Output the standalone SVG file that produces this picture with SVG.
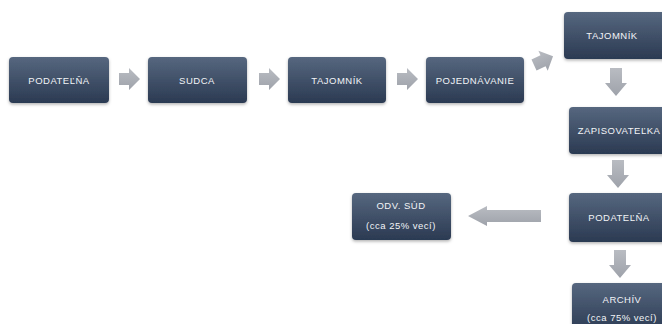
<svg xmlns="http://www.w3.org/2000/svg" width="662" height="324" viewBox="0 0 662 324">
<defs>
<linearGradient id="bx" x1="0" y1="0" x2="0" y2="1">
<stop offset="0" stop-color="#56677f"/>
<stop offset="1" stop-color="#2b3a52"/>
</linearGradient>
<linearGradient id="ar" x1="0" y1="0" x2="0" y2="1">
<stop offset="0" stop-color="#b9bcc2"/>
<stop offset="1" stop-color="#9ea2aa"/>
</linearGradient>
<filter id="sh" x="-10%" y="-10%" width="120%" height="130%">
<feDropShadow dx="0" dy="1.5" stdDeviation="1.5" flood-color="#000" flood-opacity="0.3"/>
</filter>
<polygon id="ra" points="0,-6 10,-6 10,-11 21,0 10,11 10,6 0,6"/>
<polygon id="da" points="-6,0 6,0 6,15 11,15 0,28 -11,15 -6,15"/>
</defs>
<style>
.box{fill:url(#bx);filter:url(#sh)}
.t{fill:#f2f4f7;font-family:"Liberation Sans",Arial,sans-serif;font-size:9.5px;text-anchor:middle;letter-spacing:0.5px}
.a{fill:url(#ar)}
</style>
<rect width="662" height="324" fill="#fff"/>
<g id="connectors">
<use href="#ra" class="a" x="119" y="79"/>
<use href="#ra" class="a" x="259" y="79"/>
<use href="#ra" class="a" x="397" y="79"/>
<use href="#ra" class="a" transform="translate(534,65) rotate(-25)"/>
<use href="#da" class="a" x="616" y="68"/>
<use href="#da" class="a" x="618" y="160"/>
<polygon class="a" points="541,210 487,210 487,206 468,216 487,226 487,222 541,222"/>
<use href="#da" class="a" x="620" y="250"/>
</g>
<g id="n1"><rect class="box" x="9" y="57" width="100" height="46" rx="4"/><text class="t" x="59" y="83.5">PODATEĽŇA</text></g>
<g id="n2"><rect class="box" x="148" y="57" width="99" height="46" rx="4"/><text class="t" x="197" y="83.5">SUDCA</text></g>
<g id="n3"><rect class="box" x="288" y="57" width="98" height="46" rx="4"/><text class="t" x="337" y="83.5">TAJOMNÍK</text></g>
<g id="n4"><rect class="box" x="426" y="57" width="98" height="46" rx="4"/><text class="t" x="475" y="83.5">POJEDNÁVANIE</text></g>
<g id="n5"><rect class="box" x="564" y="12" width="104" height="47" rx="4"/><text class="t" x="612" y="38.5">TAJOMNÍK</text></g>
<g id="n6"><rect class="box" x="569" y="107" width="100" height="47" rx="4"/><text class="t" x="619" y="133.5">ZAPISOVATEĽKA</text></g>
<g id="n7"><rect class="box" x="569" y="193" width="100" height="49" rx="4"/><text class="t" x="619" y="220.5">PODATEĽŇA</text></g>
<g id="n8"><rect class="box" x="352" y="193" width="99" height="47" rx="4"/><text class="t" x="401" y="208.5">ODV. SÚD</text><text class="t" x="401" y="228.5">(cca 25% vecí)</text></g>
<g id="n9"><rect class="box" x="572" y="283" width="100" height="50" rx="4"/><text class="t" x="622" y="302.5">ARCHÍV</text><text class="t" x="622" y="320.5">(cca 75% vecí)</text></g>
</svg>
